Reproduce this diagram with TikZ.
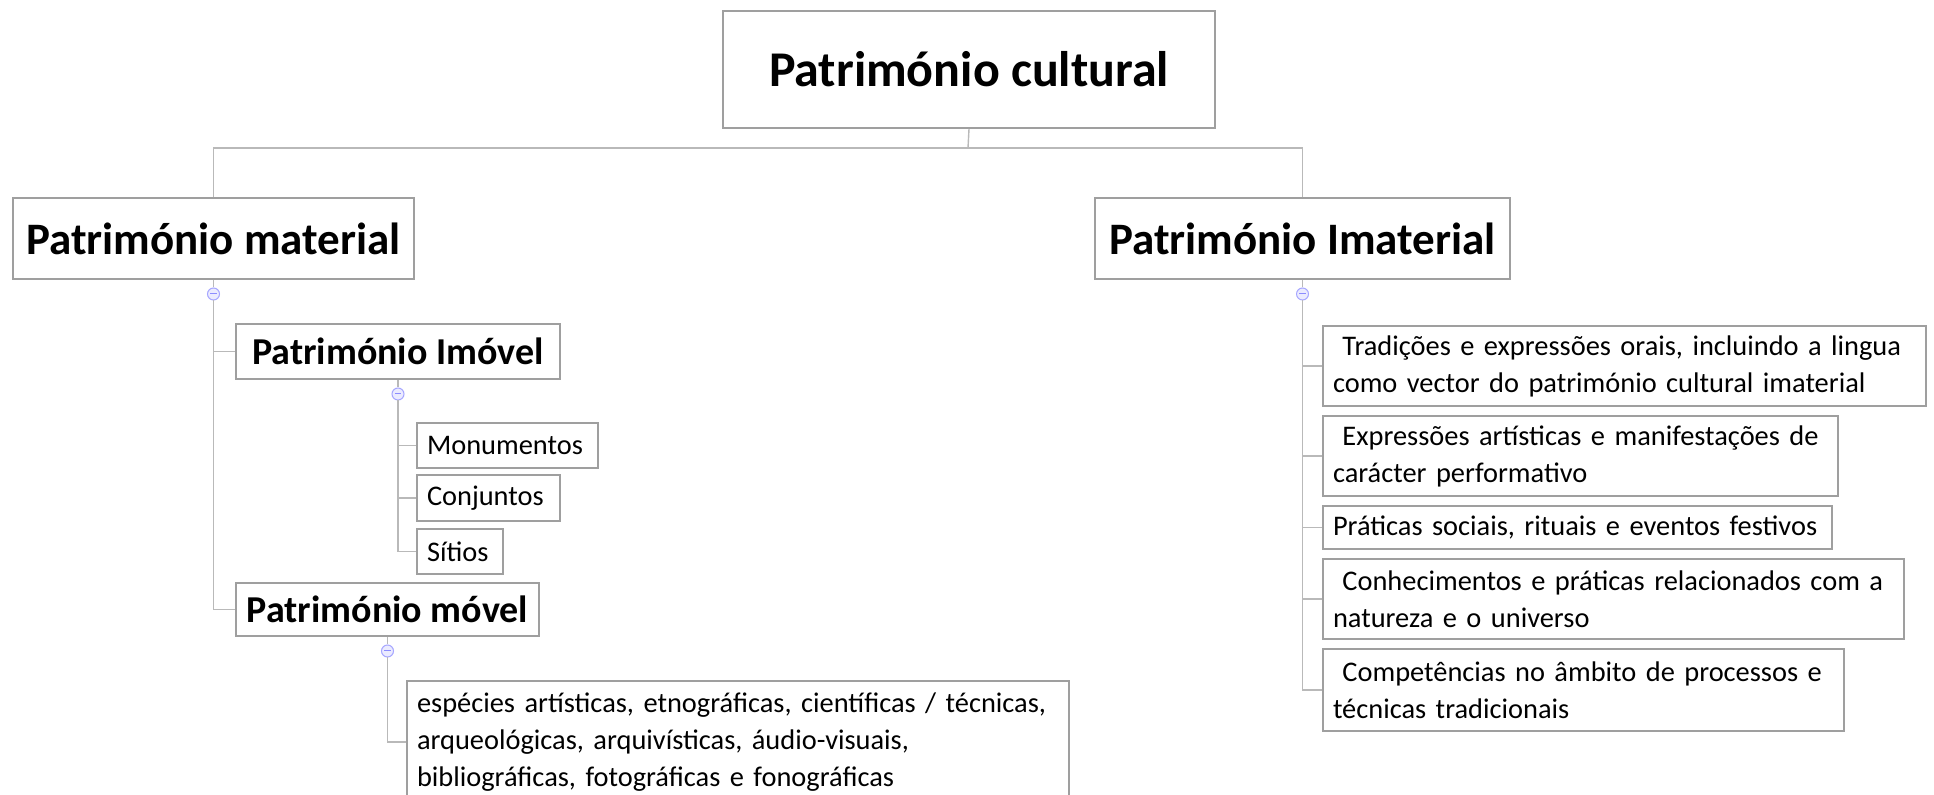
\documentclass[tikz,border=0pt]{standalone}
\usepackage{fontspec}
\setmainfont{Carlito}
\usepackage{tikz}

\tikzset{
  box/.style={draw=gray!75, line width=1pt, fill=white, inner ysep=0pt, inner xsep=5pt, anchor=north west},
  toptext/.style={font=\bfseries\fontsize{25}{30}\selectfont},
  bigtext/.style={font=\bfseries\fontsize{22.5}{27}\selectfont},
  midtext/.style={font=\bfseries\fontsize{19}{23}\selectfont},
  smalltext/.style={font=\fontsize{14.2}{18.5}\selectfont, align=left},
  link/.style={draw=gray!55, line width=0.7pt},
  expander/.style={circle, draw=blue!35, fill=blue!8, line width=0.5pt,
    minimum size=6pt, inner sep=0pt, yshift=-7pt,
    path picture={\draw[blue!45, line width=0.5pt]
      ([xshift=-1.6pt]path picture bounding box.center) --
      ([xshift=1.6pt]path picture bounding box.center);}}
}

\begin{document}
\begin{tikzpicture}[x=0.5pt, y=-0.5pt]
\clip (0,0) rectangle (1934,795);
\fill[white] (0,0) rectangle (1934,795);
%% top
\node[box, toptext, minimum width=246pt, minimum height=58.5pt] (root) at (722,10) {Património cultural};
\coordinate (rootj) at (968,148);
%% first level
\node[box, bigtext, minimum width=200.5pt, minimum height=40.5pt] (mat) at (12,197) {Património material};
\node[box, bigtext, minimum width=207.5pt, minimum height=40.5pt] (imat) at (1094,197) {Património Imaterial};
%%
\node[box, midtext, minimum width=162pt, minimum height=27.5pt] (imov) at (235,323) {Património Imóvel};
\node[box, smalltext, text width=80.5pt, minimum height=22.5pt] (monu) at (416,422) {Monumentos};
\node[box, smalltext, text width=61.5pt, minimum height=23pt] (conj) at (416,474) {Conjuntos};
\node[box, smalltext, text width=33pt, minimum height=22.5pt] (sit) at (416,528) {Sítios};
%%
\node[box, midtext, minimum width=151.5pt, minimum height=26.5pt] (mov) at (235,582) {Património móvel};
\node[box, smalltext, text width=321pt, minimum height=61pt] (esp) at (406,680) {espécies artísticas, etnográficas, científicas / técnicas,\\ arqueológicas, arquivísticas, áudio-visuais,\\ bibliográficas, fotográficas e fonográficas};
%%
\node[box, smalltext, text width=291.5pt, minimum height=40pt] (trad) at (1322,325) {\ Tradições e expressões orais, incluindo a lingua\\ como vector do património cultural imaterial};
\node[box, smalltext, text width=247.5pt, minimum height=40pt] (expr) at (1322,415) {\ Expressões artísticas e manifestações de\\ carácter performativo};
\node[box, smalltext, text width=244.5pt, minimum height=21.5pt] (prat) at (1322,505) {Práticas sociais, rituais e eventos festivos};
\node[box, smalltext, text width=280.5pt, minimum height=40pt] (conh) at (1322,558) {\ Conhecimentos e práticas relacionados com a\\ natureza e o universo};
\node[box, smalltext, text width=250.5pt, minimum height=41pt] (comp) at (1322,648) {\ Competências no âmbito de processos e\\ técnicas tradicionais};
%% expanders
\node[expander] (matx) at (mat.south) {};
\node[expander] (imovx) at (imov.south) {};
\node[expander] (movx) at (mov.south) {};
\node[expander] (imatx) at (imat.south) {};
%% connectors
\draw[link] (root.south) -- (rootj);
\draw[link] (mat.north) |- (rootj) -| (imat.north);
\draw[link] (mat) -- (matx);
\draw[link] (matx) |- (imov.west);
\draw[link] (matx) |- (mov.west);
\draw[link] (imov) -- (imovx);
\draw[link] (imovx) |- (monu.west);
\draw[link] (imovx) |- (conj.west);
\draw[link] (imovx) |- (sit.west);
\draw[link] (mov) -- (movx);
\draw[link] (movx) |- (esp.west);
\draw[link] (imat) -- (imatx);
\draw[link] (imatx) |- (trad.west);
\draw[link] (imatx) |- (expr.west);
\draw[link] (imatx) |- (prat.west);
\draw[link] (imatx) |- (conh.west);
\draw[link] (imatx) |- (comp.west);
\end{tikzpicture}
\end{document}
